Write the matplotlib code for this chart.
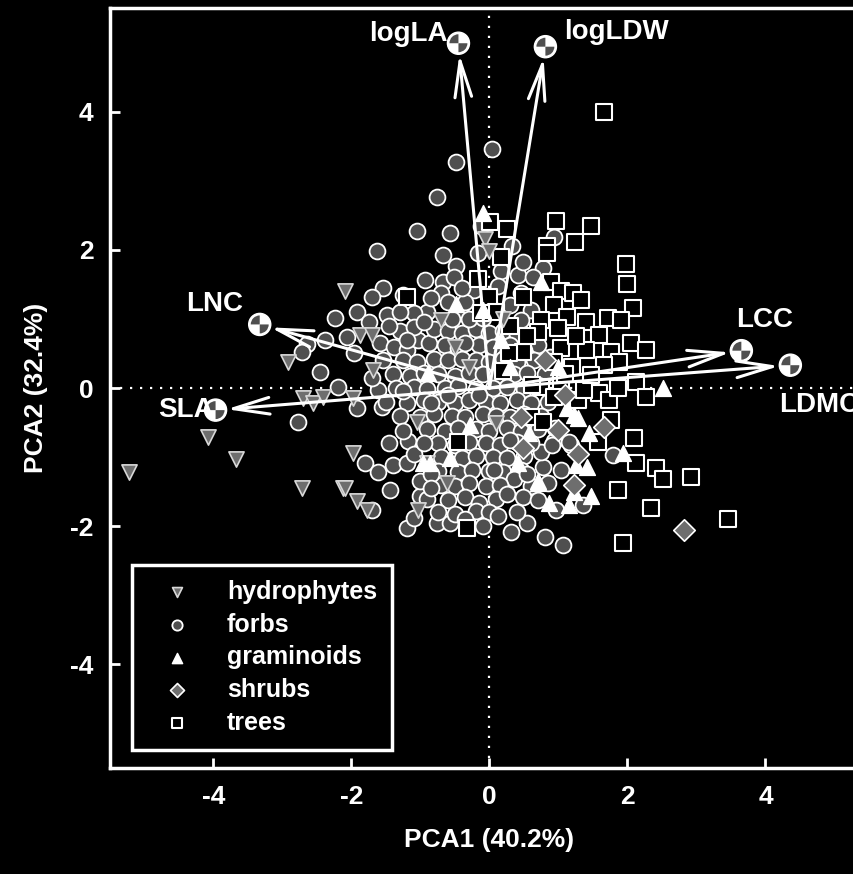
import numpy as np
import matplotlib.pyplot as plt
from matplotlib.patches import Circle, Wedge

plt.rcParams['font.family'] = ['Liberation Sans', 'DejaVu Sans']
plt.rcParams['font.weight'] = 'bold'
plt.rcParams['axes.unicode_minus'] = False

# scores of the species on the first two axes
hydrophytes = [(-5.23, -1.21), (-4.08, -0.71), (-3.68, -1.03), (-2.72, -1.45), (-2.12, -1.45),
               (-2.92, 0.38), (-2.70, -0.15), (-2.56, -0.22), (-2.41, -0.13), (-2.09, 1.40),
               (-1.88, 0.77), (-1.70, 0.77), (-1.69, 0.26), (-1.98, -0.15), (-1.05, -0.49),
               (-1.98, -0.94), (-2.09, -1.45), (-1.92, -1.63), (-1.77, -1.77), (-0.90, -1.08),
               (-0.61, -1.37), (-1.03, -1.77), (-0.71, 0.99), (-0.06, 2.15), (-0.01, 1.98),
               (-0.30, 0.30), (0.10, -0.50), (-0.50, 0.60), (0.20, 1.00)]

forbs = [(0.03, 3.46), (-0.48, 3.27), (-0.76, 2.76), (-1.05, 2.27), (-1.63, 1.99), (-0.57, 2.25),
         (-0.13, 2.34), (0.33, 2.05), (0.93, 2.18), (-0.67, 1.93), (-0.49, 1.76), (-0.16, 1.96),
         (0.16, 1.69), (0.41, 1.64), (0.48, 1.83), (0.77, 1.74), (0.63, 1.60), (-0.93, 1.57),
         (-0.68, 1.53), (-0.71, 1.38), (-0.52, 1.61), (-0.23, 1.42), (0.12, 1.47), (0.45, 1.38),
         (0.60, 1.13), (-0.90, 1.10), (-0.42, 1.09), (-1.54, 1.45), (-1.70, 1.31), (-1.92, 1.10),
         (-2.24, 1.02), (-1.48, 1.06), (-1.10, 1.09), (-2.38, 0.70), (-2.65, 0.63), (-2.72, 0.52),
         (-2.46, 0.23), (-2.19, 0.01), (-2.78, -0.49), (-2.06, 0.74), (1.79, -0.97), (0.81, -2.15),
         (1.06, -2.27), (0.96, -1.77), (1.35, -1.70), (1.03, -1.19), (0.78, -1.15), (1.18, -0.83),
         (0.93, -0.76), (0.74, -0.93), (0.31, -2.09), (0.55, -1.95), (-0.76, -1.96), (-0.57, -1.95),
         (-1.19, -2.02), (-1.10, -1.88), (-1.70, -1.77), (-1.44, -1.48), (-1.00, -1.56), (-1.00, -1.34),
         (-1.80, -1.09), (-1.61, -1.22), (-1.40, -1.12), (-1.19, -1.09), (-1.18, -0.76), (-1.10, -0.95),
         (-1.92, -0.29), (-1.56, -0.28), (-1.61, -0.03), (-1.97, 0.51), (-1.58, 0.65), (-1.39, 0.59),
         (-1.19, 0.55), (-1.03, 0.70), (-0.88, 0.65),
         # dense core
         (-0.35, 1.25), (0.00, 1.22), (0.30, 1.20), (-0.60, 1.25),
         (-0.80, 0.85), (-0.60, 0.82), (-0.40, 0.80), (-0.20, 0.85), (0.00, 0.80), (0.20, 0.82),
         (0.40, 0.78), (0.70, 0.62), (-1.30, 0.82), (-1.10, 0.88), (-0.30, 1.00), (-0.10, 1.02),
         (0.45, 0.98), (-0.65, 0.62), (-0.45, 0.58), (-0.15, 0.62), (0.05, 0.60), (0.30, 0.62),
         (0.50, 0.55), (-1.55, 0.40), (-1.25, 0.40), (-1.05, 0.38), (-0.80, 0.42), (-0.60, 0.40),
         (-0.40, 0.42), (-0.20, 0.40), (0.00, 0.38), (0.20, 0.42), (0.40, 0.38), (0.65, 0.40),
         (0.88, 0.45), (-1.40, 0.20), (-1.15, 0.18), (-0.95, 0.22), (-0.75, 0.20), (-0.50, 0.18),
         (-0.30, 0.22), (-0.10, 0.20), (0.10, 0.18), (0.35, 0.20), (0.55, 0.22), (0.80, 0.20),
         (-1.35, 0.00), (-1.10, 0.02), (-0.90, -0.02), (-0.65, 0.00), (-0.45, 0.03), (-0.20, -0.02),
         (0.05, 0.00), (0.25, 0.02), (0.50, -0.02), (0.70, 0.05), (-1.50, -0.20), (-1.20, -0.22),
         (-0.95, -0.18), (-0.75, -0.20), (-0.50, -0.22), (-0.30, -0.18), (-0.05, -0.20), (0.15, -0.22),
         (0.40, -0.18), (0.60, -0.22), (0.85, -0.20), (-1.30, -0.40), (-1.00, -0.42), (-0.80, -0.38),
         (-0.55, -0.40), (-0.35, -0.42), (-0.10, -0.38), (0.10, -0.40), (0.30, -0.42), (0.50, -0.38),
         (0.75, -0.40), (-0.90, -0.60), (-0.65, -0.62), (-0.45, -0.58), (-0.20, -0.60), (0.00, -0.62),
         (0.25, -0.58), (0.45, -0.62), (0.70, -0.60), (0.95, -0.58), (-0.75, -0.80), (-0.50, -0.82),
         (-0.30, -0.78), (-0.05, -0.80), (0.15, -0.82), (0.40, -0.78), (0.60, -0.80), (0.90, -0.82),
         (1.15, -0.78), (-0.70, -1.00), (-0.40, -1.02), (-0.20, -0.98), (0.05, -1.00), (0.25, -1.02),
         (0.50, -0.98), (-0.75, -1.20), (-0.45, -1.22), (-0.25, -1.18), (0.00, -1.20), (0.20, -1.22),
         (0.45, -1.18), (0.06, -1.19), (0.35, -1.31), (-0.70, -1.40), (-0.50, -1.42), (-0.30, -1.38),
         (-0.05, -1.42), (0.15, -1.40), (0.60, -1.42), (0.85, -1.38), (-0.60, -1.62), (-0.35, -1.58),
         (-0.15, -1.67), (0.10, -1.60), (0.26, -1.53), (0.48, -1.58), (0.70, -1.62), (-0.75, -1.80),
         (-0.50, -1.82), (-0.20, -1.78), (0.00, -1.80), (0.12, -1.85), (0.40, -1.80), (-0.10, -2.00),
         (-0.85, -0.22), (-1.25, -0.62), (-1.45, -0.80), (-0.95, -0.80), (-1.30, 1.10), (-0.15, -0.10),
         (-1.45, 0.90), (-1.20, 0.70), (-0.95, 0.95), (-1.75, 0.95), (-0.85, 1.30), (-1.25, 1.35),
         (-0.55, 1.00), (-0.35, 0.65), (-1.70, 0.15), (-1.25, -0.05), (-0.85, -1.25), (-0.90, -1.60),
         (-0.35, -1.90), (-0.85, -1.45), (0.55, -1.25), (-0.60, -0.10), (0.30, -0.75), (-0.40, 1.45)]

graminoids = [(-0.10, 2.54), (0.74, 1.53), (-0.49, 1.21), (-0.09, 1.13), (0.16, 0.70), (2.51, 0.00),
              (1.13, -0.29), (1.28, -0.44), (0.57, -0.65), (1.44, -0.65), (1.93, -0.94), (1.25, -1.12),
              (1.42, -1.15), (0.42, -1.09), (0.70, -1.37), (1.22, -1.51), (1.47, -1.56), (0.86, -1.67),
              (1.15, -1.70), (-0.28, -0.54), (-0.57, -1.02), (-0.97, -1.09), (-0.89, 0.22), (1.22, -0.39),
              (0.71, -1.34), (-0.86, -1.09), (0.30, 0.30), (1.00, 0.30)]

shrubs = [(1.66, -0.56), (1.22, -1.41), (2.82, -2.06), (0.45, -0.42), (1.00, -0.61), (0.49, -0.87),
          (1.28, -0.95), (0.80, 0.40), (1.10, -0.10)]

trees = [(1.66, 4.00), (0.01, 2.40), (0.26, 2.30), (0.96, 2.41), (1.47, 2.35), (0.83, 2.05),
         (0.83, 1.96), (1.24, 2.11), (1.98, 1.79), (2.00, 1.50), (2.08, 1.16), (0.16, 1.89),
         (-0.16, 1.58), (-0.01, 1.32), (0.89, 1.53), (1.03, 1.40), (1.21, 1.38), (1.32, 1.28),
         (1.72, 1.02), (1.90, 0.99), (-1.19, 1.31), (0.48, 1.31), (0.93, 1.20), (1.13, 1.03),
         (1.40, 0.96), (0.74, 0.99), (0.99, 0.87), (0.71, 0.81), (0.09, 1.10), (-0.13, 1.09),
         (1.58, 0.77), (2.05, 0.65), (2.27, 0.55), (1.03, 0.58), (1.40, 0.55), (1.76, 0.52),
         (0.49, 0.52), (0.28, 0.51), (1.88, 0.38), (1.66, 0.33), (0.93, 0.38), (1.03, 0.09),
         (0.74, 0.01), (0.93, -0.13), (1.28, -0.17), (1.58, -0.07), (1.73, -0.17), (1.86, 0.00),
         (2.12, 0.09), (2.27, -0.13), (1.37, -0.03), (1.47, 0.19), (0.60, -0.42), (0.78, -0.49),
         (1.76, -0.47), (1.57, -0.78), (2.09, -0.73), (2.12, -1.09), (2.41, -1.16), (2.51, -1.31),
         (2.92, -1.29), (1.86, -1.48), (2.34, -1.73), (1.93, -2.25), (3.46, -1.89), (-0.45, -0.78),
         (-0.32, -2.03), (0.61, 0.04), (1.20, 0.30), (0.55, 0.75), (1.25, 0.75), (1.10, 0.20),
         (0.30, 0.90), (0.20, 0.25)]

# trait loadings
traits = ['logLA', 'logLDW', 'LNC', 'SLA', 'LCC', 'LDMC']
trait_x = [-0.45, 0.81, -3.33, -3.97, 3.65, 4.36]
trait_y = [4.99, 4.94, 0.92, -0.32, 0.54, 0.33]

fig = plt.figure(figsize=(8.54, 8.74), dpi=100, facecolor='black')
ax = fig.add_axes([110 / 854, 106 / 874, 759 / 854, 760 / 874], facecolor='black')

ax.axhline(0, color='white', lw=1.6, ls=(0, (1, 3.5)), zorder=1)
ax.axvline(0, color='white', lw=1.6, ls=(0, (1, 3.5)), zorder=1)

fx, fy = np.array(forbs).T
tx, ty = np.array(trees).T
hx, hy = np.array(hydrophytes).T
gx, gy = np.array(graminoids).T
sx, sy = np.array(shrubs).T

ax.scatter(fx, fy, s=130, marker='o', facecolor='#4f4f4f', edgecolor='white', lw=1.3, zorder=3,
           label='forbs')
ax.scatter(tx, ty, s=120, marker='s', facecolor='black', edgecolor='white', lw=1.5, zorder=4,
           label='trees')
ax.scatter(hx, hy, s=120, marker='v', facecolor='#6e6e6e', edgecolor='#d8d8d8', lw=1.2, zorder=5,
           label='hydrophytes')
ax.scatter(gx, gy, s=130, marker='^', facecolor='white', edgecolor='white', lw=1.0, zorder=5,
           label='graminoids')
ax.scatter(sx, sy, s=120, marker='D', facecolor='#6e6e6e', edgecolor='white', lw=1.2, zorder=5,
           label='shrubs')

# loading arrows with quartered end markers
for name, x, y in zip(traits, trait_x, trait_y):
    ax.annotate('', xy=(x, y), xytext=(0, 0),
                arrowprops=dict(arrowstyle='->,head_length=1.3,head_width=0.3', color='white',
                                lw=2.2, shrinkA=0, shrinkB=8, mutation_scale=20), zorder=6)
    ax.add_patch(Circle((x, y), 0.16, facecolor='white', edgecolor='white', zorder=7))
    ax.add_patch(Wedge((x, y), 0.13, 90, 180, facecolor='#4f4f4f', edgecolor='none', zorder=8))
    ax.add_patch(Wedge((x, y), 0.13, 270, 360, facecolor='#4f4f4f', edgecolor='none', zorder=8))

lab = dict(color='white', fontsize=20, fontweight='bold', zorder=9)
ax.text(-0.60, 5.13, 'logLA', ha='right', va='center', **lab)
ax.text(1.08, 5.15, 'logLDW', ha='left', va='center', **lab)
ax.text(-3.57, 1.21, 'LNC', ha='right', va='center', **lab)
ax.text(-4.00, -0.32, 'SLA', ha='right', va='center', **lab)
ax.text(3.58, 0.99, 'LCC', ha='left', va='center', **lab)
ax.text(4.20, -0.25, 'LDMC', ha='left', va='center', **lab)

ax.set_xlim(-5.5, 5.5)
ax.set_ylim(-5.5, 5.5)
ax.set_xticks([-4, -2, 0, 2, 4])
ax.set_yticks([-4, -2, 0, 2, 4])
ax.tick_params(direction='in', length=7, width=2, colors='white', labelsize=19, pad=12)
for lbl in ax.get_xticklabels() + ax.get_yticklabels():
    lbl.set_fontweight('bold')
for sp in ax.spines.values():
    sp.set_color('white')
    sp.set_linewidth(2.5)

ax.set_xlabel('PCA1 (40.2%)', color='white', fontsize=19, fontweight='bold', labelpad=14)
ax.set_ylabel('PCA2 (32.4%)', color='white', fontsize=19, fontweight='bold', labelpad=16)

h, l = ax.get_legend_handles_labels()
order = [l.index(n) for n in ['hydrophytes', 'forbs', 'graminoids', 'shrubs', 'trees']]
leg = ax.legend([h[i] for i in order], [l[i] for i in order], loc='lower left',
                bbox_to_anchor=(0.029, 0.024), markerscale=0.65, fontsize=18, frameon=True,
                facecolor='black', edgecolor='white', framealpha=1, fancybox=False,
                labelspacing=0.35, handletextpad=0.8, borderpad=0.6, borderaxespad=0,
                handlelength=2.4)
leg.get_frame().set_linewidth(2.5)
for t in leg.get_texts():
    t.set_color('white')
    t.set_fontweight('bold')

fig.savefig('out.png', dpi=100, facecolor='black')
